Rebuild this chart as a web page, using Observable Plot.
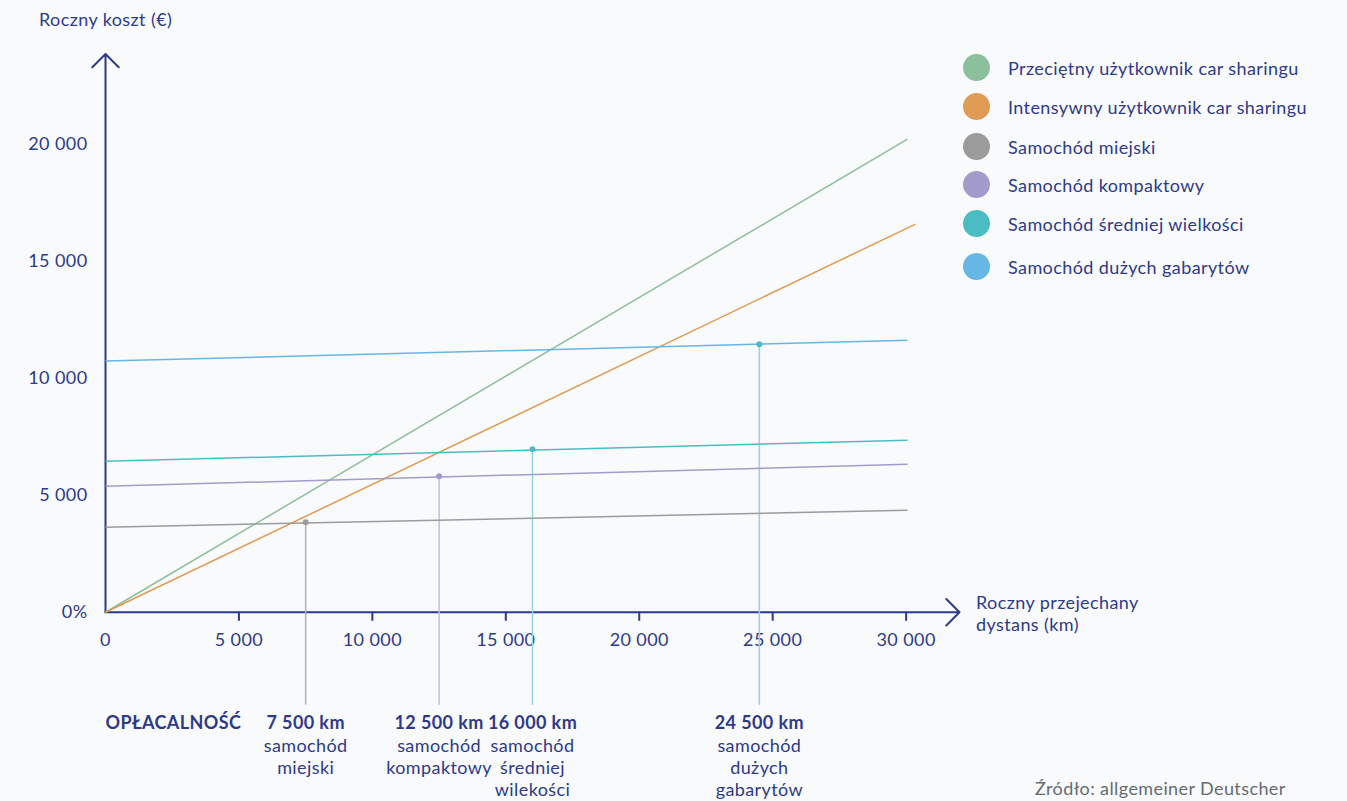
<!DOCTYPE html>
<html>
<head>
<meta charset="utf-8">
<script src="https://cdn.jsdelivr.net/npm/d3@7"></script>
<script src="https://cdn.jsdelivr.net/npm/@observablehq/plot@0.6"></script>
<style>
  html, body { margin: 0; padding: 0; background: #f9fafc; }
  body { width: 1347px; height: 801px; position: relative; overflow: hidden; font-family: Lato, "Noto Sans", sans-serif; color: #2e3a87; letter-spacing: 0.4px; }
  #chart { position: absolute; left: 0; top: 0; }
  .ov { position: absolute; white-space: nowrap; }
  .legend-row { position: absolute; left: 963px; display: flex; align-items: center; font-size: 18px; }
  .legend-row .sw { width: 27px; height: 27px; border-radius: 50%; margin-right: 18px; }
  #err { position: absolute; left: 300px; top: 300px; color: red; }
</style>
</head>
<body>
<div id="chart"></div>
<div class="ov" style="left:39px; top:8px; font-size:18px;">Roczny koszt (€)</div>
<div class="ov" style="left:976px; top:591px; font-size:18px; line-height:22px;">Roczny przejechany<br>dystans (km)</div>
<div class="ov" style="left:1035px; top:777px; font-size:18px; color:#666a70;">Źródło: allgemeiner Deutscher</div>
<div id="legend"></div>
<div id="err"></div>
<script>
// ---- data ----
const seriesNames = [
  "Przeciętny użytkownik car sharingu",
  "Intensywny użytkownik car sharingu",
  "Samochód miejski",
  "Samochód kompaktowy",
  "Samochód średniej wielkości",
  "Samochód dużych gabarytów"
];
const seriesColors = ["#8cbf9c", "#e09b55", "#9b9b9b", "#a39bcc", "#4cbcc3", "#66b6e6"];
const startKm   = [0, 0, 0, 0, 0, 0];
const startCost = [0, 0, 3630, 5385, 6450, 10730];
const endKm     = [30050, 30350, 30050, 30050, 30050, 30050];
const endCost   = [20210, 16580, 4360, 6325, 7350, 11620];

const breakKm     = [7500, 12500, 16000, 24500];
const breakCost   = [3846, 5810, 6966, 11450];
const breakLabels = ["7 500 km", "12 500 km", "16 000 km", "24 500 km"];
const breakNotes  = ["samochód\nmiejski", "samochód\nkompaktowy", "samochód\nśredniej\nwilekości", "samochód\ndużych\ngabarytów"];
const breakDotColors  = ["#9b9b9b", "#a39bcc", "#4cbcc3", "#4cbcc3"];
const breakLineColors = ["#b3b3b3", "#c3bee0", "#93d6da", "#9ccdec"];

const xTicks = [0, 5000, 10000, 15000, 20000, 25000, 30000];
const xTickLabels = ["0", "5 000", "10 000", "15 000", "20 000", "25 000", "30 000"];
const yTicks = [0, 5000, 10000, 15000, 20000];
const yTickLabels = ["0%", "5 000", "10 000", "15 000", "20 000"];

// ---- chart ----
const navy = "#2e3a87";
const sIdx = d3.range(seriesNames.length);
const bIdx = d3.range(breakKm.length);
const xAxisEnd = 32000, yAxisEnd = 23850, dropTo = -3970, annY = -4750, tickEnd = -385;

try {
const chart = Plot.plot({
  width: 1347,
  height: 801,
  marginLeft: 105,
  marginRight: 388,
  marginTop: 50,
  marginBottom: 2,
  x: { domain: [0, xAxisEnd], axis: null },
  y: { domain: [-8000, 24000], axis: null },
  style: { background: "transparent", fontFamily: "Lato, 'Noto Sans', sans-serif", color: navy, overflow: "visible", letterSpacing: "0.4px" },
  marks: [
    // axes with arrows
    Plot.arrow([0], { x1: 0, y1: 0, x2: xAxisEnd, y2: 0, stroke: navy, strokeWidth: 2, headAngle: 90, headLength: 14 }),
    Plot.arrow([0], { x1: 0, y1: 0, x2: 0, y2: yAxisEnd, stroke: navy, strokeWidth: 2, headAngle: 90, headLength: 14 }),
    Plot.ruleX(xTicks.slice(1), { x: d => d, y1: 0, y2: tickEnd, stroke: navy, strokeWidth: 2 }),
    Plot.text(xTicks, { x: d => d, y: 0, text: (d, i) => xTickLabels[i], dy: 28, fontSize: 18, fill: navy }),
    Plot.text(yTicks, { x: 0, y: d => d, text: (d, i) => yTickLabels[i], dx: -18, textAnchor: "end", fontSize: 18, fill: navy }),
    // drop lines
    Plot.ruleX(bIdx, { x: i => breakKm[i], y1: i => breakCost[i], y2: dropTo, stroke: i => breakLineColors[i], strokeWidth: 1.5 }),
    // series lines
    Plot.link(sIdx, {
      x1: i => startKm[i], y1: i => startCost[i], x2: i => endKm[i], y2: i => endCost[i],
      stroke: i => seriesColors[i], strokeWidth: 1.5
    }),
    // break-even dots
    Plot.dot(bIdx, { x: i => breakKm[i], y: i => breakCost[i], r: 3, fill: i => breakDotColors[i] }),
    // annotations
    Plot.text(["OPŁACALNOŚĆ"], { x: 0, y: annY, text: d => d, textAnchor: "start", fontWeight: "bold", fontSize: 18, fill: navy }),
    Plot.text(bIdx, { x: i => breakKm[i], y: annY, text: i => breakLabels[i], fontWeight: "bold", fontSize: 18, fill: navy }),
    Plot.text(bIdx, { x: i => breakKm[i], y: annY, text: i => breakNotes[i], dy: 13, lineAnchor: "top", lineHeight: 1.22, fontSize: 18, fill: navy })
  ]
});
document.getElementById("chart").appendChild(chart);
} catch (e) {
  document.getElementById("err").textContent = String(e);
}

// legend
const legend = document.getElementById("legend");
const rowY = [68, 107, 147, 185, 224, 267];
seriesNames.forEach((name, i) => {
  const row = document.createElement("div");
  row.className = "legend-row";
  row.style.top = (rowY[i] - 14) + "px";
  row.innerHTML = `<span class="sw" style="background:${seriesColors[i]}"></span><span>${name}</span>`;
  legend.appendChild(row);
});
</script>
</body>
</html>
